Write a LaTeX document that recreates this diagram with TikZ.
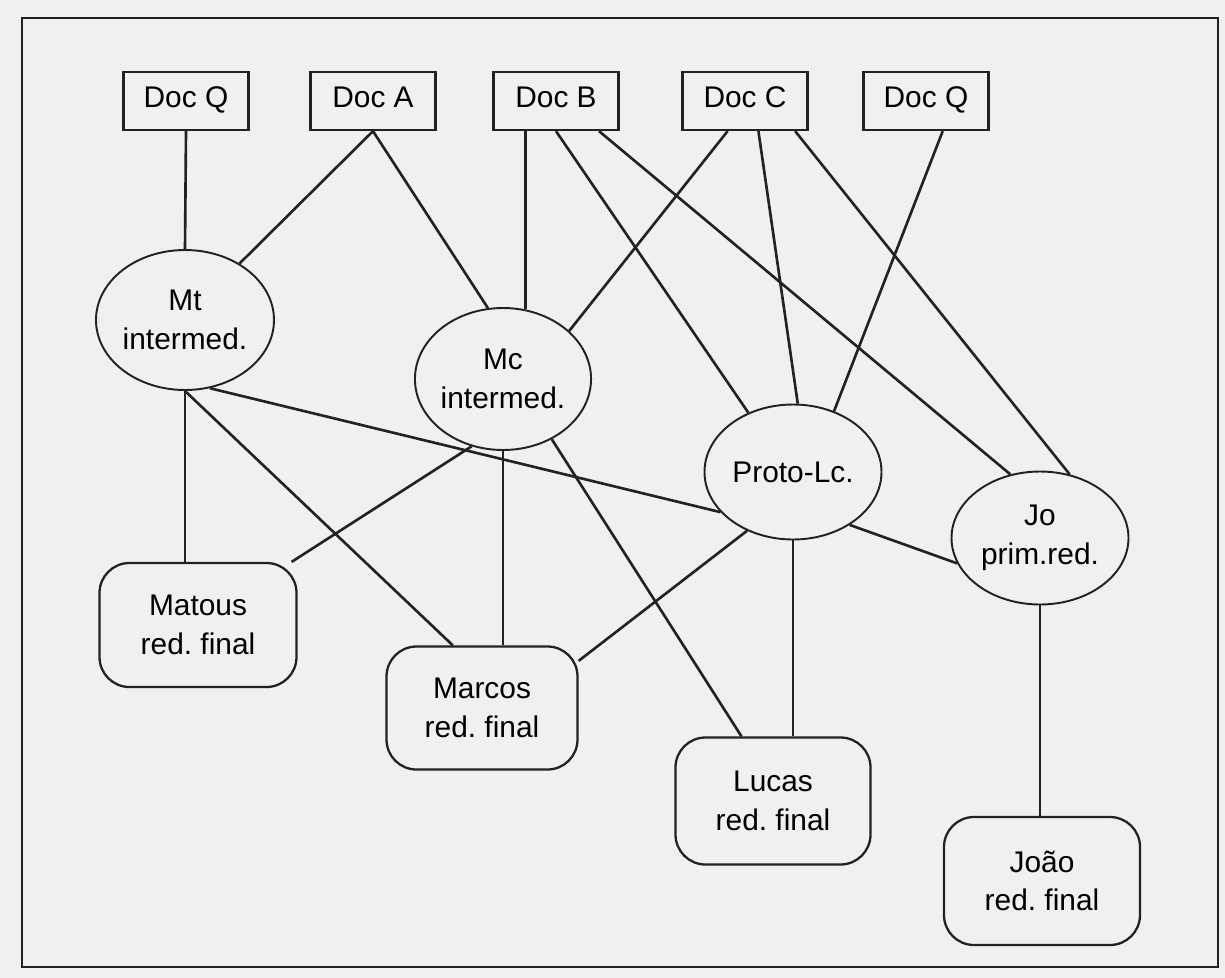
\documentclass[tikz,border=0pt]{standalone}
\usepackage{fontspec}
\setmainfont{Liberation Sans}
\usepackage{tikz}
\usetikzlibrary{shapes.geometric}
\definecolor{paper}{HTML}{F0F0F0}
\definecolor{ink}{HTML}{222222}
\frenchspacing

\begin{document}
\begin{tikzpicture}[x=0.2mm, y=-0.2mm,
  docnode/.style={rectangle, draw=ink, line width=1.3pt, minimum width=25mm, minimum height=11.6mm, inner sep=0pt, text height=1.8ex, text depth=0.5ex, font=\fontsize{17}{21}\selectfont},
  stage/.style={ellipse, draw=ink, line width=1.1pt, inner sep=0pt, align=center, font=\fontsize{17}{22}\selectfont},
  gospel/.style={rectangle, rounded corners=6mm, draw=ink, line width=1.3pt, inner sep=0pt, align=center, font=\fontsize{17}{22}\selectfont},
  link/.style={draw=ink, line width=1.5pt}]
  \fill[paper] (0,0) rectangle (1225,978);
  \useasboundingbox (0,0) rectangle (1225,978);
  \draw[ink, line width=1.6pt] (22,18) rectangle (1218,967);

  \node[docnode] (docq1) at (186,101) {Doc Q};
  \node[docnode] (doca) at (373,101) {Doc A};
  \node[docnode] (docb) at (556,101) {Doc B};
  \node[docnode] (docc) at (745,101) {Doc C};
  \node[docnode] (docq2) at (926,101) {Doc Q};

  \node[stage, minimum width=35.6mm, minimum height=28mm] (mt) at (185,320) {Mt\\intermed.};
  \node[stage, minimum width=34.4mm, minimum height=28.4mm] (mc) at (503,379) {Mc\\intermed.};
  \node[stage, minimum width=35.4mm, minimum height=27mm] (proto) at (793,472) {Proto-Lc.};
  \node[stage, minimum width=35.4mm, minimum height=26.6mm] (jo) at (1040,538) {Jo\\prim.red.};

  \node[gospel, minimum width=39.4mm, minimum height=24.8mm] (matous) at (198,625) {Matous\\red. final};
  \node[gospel, minimum width=38.2mm, minimum height=24.6mm] (marcos) at (482,708) {Marcos\\red. final};
  \node[gospel, minimum width=39mm, minimum height=25.4mm] (lucas) at (773,801) {Lucas\\red. final};
  \node[gospel, minimum width=39.2mm, minimum height=25.6mm] (joao) at (1042,881) {João\\red. final};

  \draw[link] (docq1.south) -- (mt.north);
  \draw[link] (doca.south) -- (mt.46);
  \draw[link] (doca.south) -- (mc.102);
  \draw[link] (mc.72 |- docb.south) -- (mc.72);
  \draw[link] (docb.south) -- (proto.127);
  \draw[link] (docb.325) -- (jo.115);
  \draw[link] (docc.240) -- (mc.36);
  \draw[link] (docc.294) -- (proto.86);
  \draw[link] (docc.329) -- (jo.65);
  \draw[link] (docq2.299) -- (proto.56);
  \draw[link] (mt.south) -- (mt.south |- matous.north);
  \draw[link] (mt.south) -- (marcos.115);
  \draw[link] (mt.290) -- (proto.209);
  \draw[link] (mc.245) -- (matous.34);
  \draw[link] (mc.south) -- (mc.south |- marcos.north);
  \draw[link] (mc.309) -- (lucas.116);
  \draw[link] (proto.232) -- (marcos.26);
  \draw[link] (proto.south) -- (proto.south |- lucas.north);
  \draw[link] (proto.317) -- (jo.197);
  \draw[link] (jo.south) -- (jo.south |- joao.north);
\end{tikzpicture}
\end{document}
